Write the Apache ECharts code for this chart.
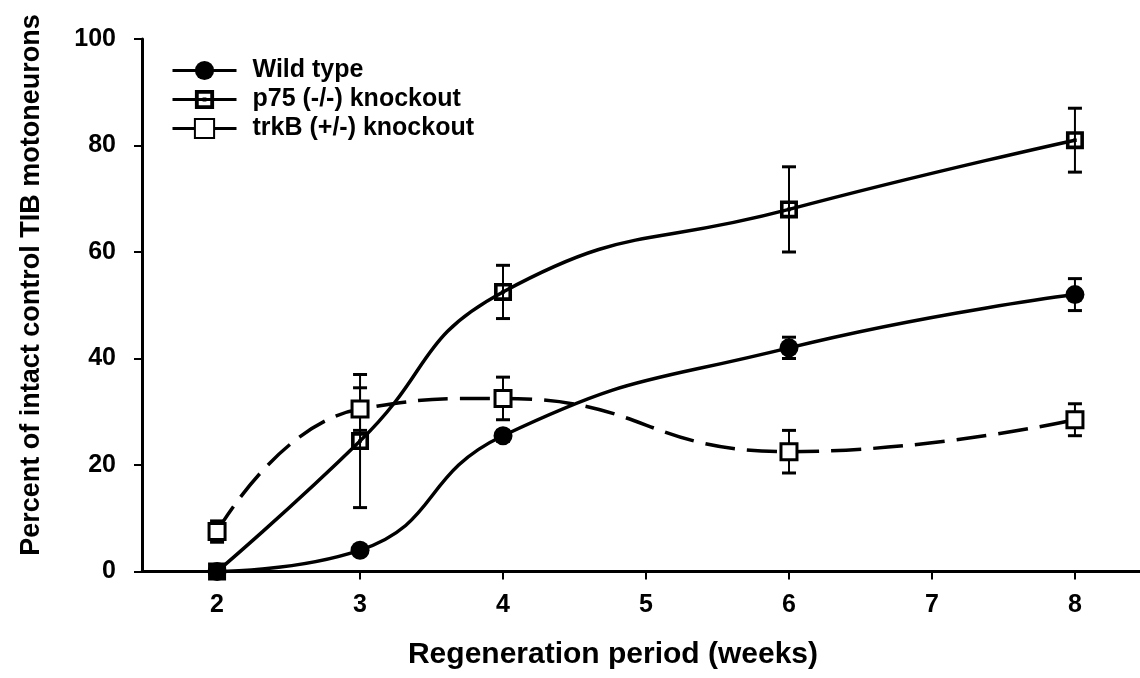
<!DOCTYPE html>
<html>
<head>
<meta charset="utf-8">
<script src="https://cdn.jsdelivr.net/npm/echarts@6/dist/echarts.min.js"></script>
<style>
  html, body { margin: 0; padding: 0; background: #fff; }
  #chart { width: 1140px; height: 678px; }
</style>
</head>
<body>
<div id="chart"></div>
<script>
// Regeneration time points (weeks)
const weeks = [2, 3, 4, 6, 8];
const xTicks = [2, 3, 4, 5, 6, 7, 8];

// Percent of intact control TIB motoneurons (mean) and error (+/-)
const wildType    = [0, 4, 25.5, 42, 52];
const wildTypeErr = [0, 0.8, 1, 2, 3];
const p75         = [0, 24.5, 52.5, 68, 81];
const p75Err      = [0, 12.5, 5, 8, 6];
const trkB        = [7.5, 30.5, 32.5, 22.5, 28.5];
const trkBErr     = [2, 4, 4, 4, 3];

const seriesNames = ['Wild type', 'p75 (-/-) knockout', 'trkB (+/-) knockout'];

const FONT = 'Liberation Sans, Arial, sans-serif';
const INK = '#000';

const pairs = vals => weeks.map((w, i) => [w, vals[i]]);

function errorBars(id, vals, errs) {
  return {
    type: 'custom',
    id: id,
    silent: true,
    z: 1,
    data: weeks.map((w, i) => [w, vals[i] - errs[i], vals[i] + errs[i]]),
    renderItem(params, api) {
      const x = api.value(0);
      const lo = api.coord([x, api.value(1)]);
      const hi = api.coord([x, api.value(2)]);
      const half = 7;
      const cap = y => ({
        type: 'line',
        shape: { x1: lo[0] - half, y1: y, x2: lo[0] + half, y2: y },
        style: { stroke: INK, lineWidth: 3 }
      });
      return {
        type: 'group',
        children: [
          { type: 'line', shape: { x1: lo[0], y1: lo[1], x2: hi[0], y2: hi[1] },
            style: { stroke: INK, lineWidth: 2 } },
          cap(lo[1]),
          cap(hi[1])
        ]
      };
    }
  };
}

// square frame with a small centre dot, used for the p75 markers
const p75Symbol = 'path://M0,0H20V20H0Z M4,4V16H16V4Z M8,8H12V12H8Z';

const chart = echarts.init(document.getElementById('chart'), null, { renderer: 'canvas' });

chart.setOption({
  backgroundColor: '#fff',
  animation: false,
  grid: { left: 142, right: 0, top: 39, bottom: 106.5, containLabel: false },
  xAxis: {
    type: 'value',
    min: 1.475,
    max: 8.455,
    axisLine: { show: true, lineStyle: { color: INK, width: 3 } },
    axisTick: { show: true, customValues: xTicks, length: 8, lineStyle: { color: INK, width: 2 } },
    axisLabel: { customValues: xTicks, color: INK, fontFamily: FONT, fontSize: 25, fontWeight: 'bold', margin: 21 },
    splitLine: { show: false }
  },
  yAxis: {
    type: 'value',
    min: 0,
    max: 100,
    interval: 20,
    axisLine: { show: true, lineStyle: { color: INK, width: 3 } },
    axisTick: { show: true, length: 8, lineStyle: { color: INK, width: 2 } },
    axisLabel: { color: INK, fontFamily: FONT, fontSize: 25, fontWeight: 'bold', margin: 26 },
    splitLine: { show: false }
  },
  legend: {
    orient: 'vertical',
    left: 166,
    top: 53,
    itemWidth: 64,
    itemHeight: 24,
    itemGap: 4,
    textStyle: { color: INK, fontFamily: FONT, fontSize: 25, fontWeight: 'bold', padding: [0, 0, 0, 11] },
    data: seriesNames.map(n => ({ name: n, lineStyle: { type: 'solid', width: 3 } }))
  },
  graphic: [
    {
      type: 'text',
      x: 613, y: 655,
      style: {
        text: 'Regeneration period (weeks)',
        align: 'center', verticalAlign: 'middle',
        font: 'bold 30px ' + FONT, fill: INK
      }
    },
    {
      type: 'text',
      x: 32, y: 285,
      rotation: Math.PI / 2,
      style: {
        text: 'Percent of intact control TIB motoneurons',
        align: 'center', verticalAlign: 'middle',
        font: 'bold 27px ' + FONT, fill: INK
      }
    }
  ],
  series: [
    errorBars('wtErr', wildType, wildTypeErr),
    errorBars('p75Err', p75, p75Err),
    errorBars('trkBErr', trkB, trkBErr),
    {
      name: seriesNames[0],
      type: 'line',
      z: 3,
      data: pairs(wildType),
      smooth: 0.5,
      symbol: 'circle',
      symbolSize: 19,
      itemStyle: { color: INK, borderColor: INK, borderWidth: 0 },
      lineStyle: { color: INK, width: 3.5 }
    },
    {
      name: seriesNames[1],
      type: 'line',
      z: 3,
      data: pairs(p75),
      smooth: 0.5,
      symbol: p75Symbol,
      symbolSize: 18,
      itemStyle: { color: INK, borderWidth: 0 },
      lineStyle: { color: INK, width: 3.5 }
    },
    {
      name: seriesNames[2],
      type: 'line',
      z: 3,
      data: pairs(trkB),
      smooth: 0.5,
      symbol: 'rect',
      symbolSize: 16,
      itemStyle: { color: '#fff', borderColor: INK, borderWidth: 3 },
      lineStyle: { color: INK, width: 3.5, type: [30, 12] }
    }
  ]
});
</script>
</body>
</html>
